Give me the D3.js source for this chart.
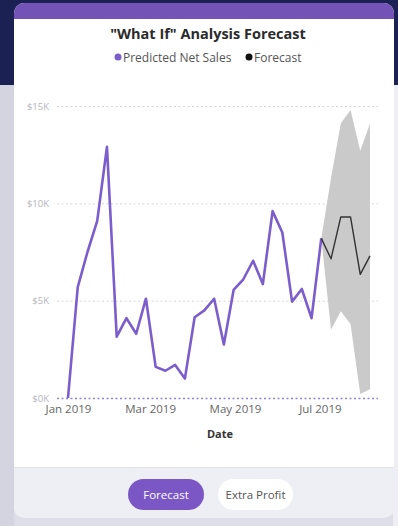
<!DOCTYPE html>
<html><head><meta charset="utf-8">
<script src="https://cdn.jsdelivr.net/npm/d3@7"></script>
<style>
html,body{margin:0;padding:0;background:#dcdce6;}
svg{display:block;font-family:"Segoe UI","Open Sans","Noto Sans",sans-serif;}
</style></head>
<body>
<svg id="chart" width="398" height="526"></svg>
<script>
// ---- data (values in dollars) ----
const startDate = "2019-01-01";           // first weekly observation
const actualValues = [0, 5700, 7500, 9100, 12900, 3150, 4100, 3300, 5100, 1600, 1400, 1700, 1000,
  4150, 4500, 5100, 2750, 5550, 6100, 7050, 5850, 9600, 8500, 4950, 5600, 4100, 8200];
const forecastValues = [8200, 7150, 9300, 9300, 6350, 7300];
const forecastUpper  = [8200, 11300, 14100, 14800, 12700, 14100];
const forecastLower  = [8200, 3500, 4450, 3800, 200, 450];
const xTickDates  = ["2019-01-01", "2019-03-01", "2019-05-01", "2019-07-01"];
const yTickValues = [0, 5000, 10000, 15000];
const yTickLabels = ["$0K", "$5K", "$10K", "$15K"];
const legendItems = ["Predicted Net Sales", "Forecast"];
const buttonLabels = ["Forecast", "Extra Profit"];

const parse = d3.timeParse("%Y-%m-%d");
const t0 = parse(startDate);
const week = i => d3.timeDay.offset(t0, i * 7);
const actual = actualValues.map((v, i) => ({date: week(i), value: v}));
const fOffset = actualValues.length - 1;
const forecast = forecastValues.map((v, i) => ({date: week(fOffset + i), value: v, hi: forecastUpper[i], lo: forecastLower[i]}));

const purple = "#7b5dcc";
const svg = d3.select("#chart");

// ---- page background & card ----
svg.append("rect").attr("x", 0).attr("y", 0).attr("width", 398).attr("height", 526).attr("fill", "#dedee8");
svg.append("rect").attr("x", 0).attr("y", 0).attr("width", 398).attr("height", 85).attr("fill", "#1b2152");
svg.append("rect").attr("x", 0).attr("y", 85).attr("width", 14).attr("height", 441).attr("fill", "#d3d4e0");
svg.append("rect").attr("x", 393).attr("y", 85).attr("width", 5).attr("height", 441).attr("fill", "#eeeef3");

const defs = svg.append("defs");
defs.append("clipPath").attr("id", "card").append("rect")
  .attr("x", 14).attr("y", 3).attr("width", 380).attr("height", 515).attr("rx", 10);
const card = svg.append("g").attr("clip-path", "url(#card)");
card.append("rect").attr("x", 14).attr("y", 3).attr("width", 380).attr("height", 515).attr("fill", "#eeeff4");
card.append("rect").attr("x", 14).attr("y", 3).attr("width", 380).attr("height", 16).attr("fill", "#7353b6");
card.append("rect").attr("x", 14).attr("y", 19).attr("width", 380).attr("height", 448).attr("fill", "#ffffff");
card.append("line").attr("x1", 14).attr("x2", 394).attr("y1", 467.5).attr("y2", 467.5).attr("stroke", "#e2e2e8");

// ---- scales ----
const x = d3.scaleTime().domain([t0, week(fOffset + forecastValues.length - 1)]).range([68, 370]);
const y = d3.scaleLinear().domain([0, 15000]).range([398, 106]);

// ---- gridlines ----
svg.append("g").selectAll("line").data(yTickValues).join("line")
  .attr("x1", 57).attr("x2", 378)
  .attr("y1", d => y(d) + 0.5).attr("y2", d => y(d) + 0.5)
  .attr("stroke", d => d === 0 ? "#8e82d8" : "#d6d6da")
  .attr("stroke-width", d => d === 0 ? 1.5 : 1)
  .attr("stroke-dasharray", "2,2.5");

// y labels
svg.append("g").selectAll("text").data(yTickValues).join("text")
  .attr("x", 49).attr("y", d => y(d) + 3.5)
  .attr("text-anchor", "end").attr("font-size", 9.5).attr("fill", "#b4b4bc")
  .text((d, i) => yTickLabels[i]);

// x axis
const xAxis = d3.axisBottom(x).tickValues(xTickDates.map(parse))
  .tickFormat(d3.timeFormat("%b %Y")).tickSize(0).tickPadding(0);
const gx = svg.append("g").attr("transform", "translate(0,405)").call(xAxis);
gx.select(".domain").remove();
gx.selectAll("text").attr("font-size", 11.5).attr("fill", "#666").attr("dy", "0.71em")
  .style("font-family", "'Segoe UI','Open Sans','Noto Sans',sans-serif");

svg.append("text").attr("x", 220).attr("y", 438).attr("text-anchor", "middle")
  .attr("font-size", 11).attr("font-weight", "bold").attr("fill", "#333").text("Date");

// ---- forecast band ----
svg.append("path").datum(forecast)
  .attr("d", d3.area().x(d => x(d.date)).y0(d => y(d.lo)).y1(d => y(d.hi)))
  .attr("fill", "#cacaca");

// ---- lines ----
svg.append("path").datum(actual)
  .attr("d", d3.line().x(d => x(d.date)).y(d => y(d.value)))
  .attr("fill", "none").attr("stroke", purple).attr("stroke-width", 2.6)
  .attr("stroke-linejoin", "round");
svg.append("path").datum(forecast)
  .attr("d", d3.line().x(d => x(d.date)).y(d => y(d.value)))
  .attr("fill", "none").attr("stroke", "#333").attr("stroke-width", 1.4)
  .attr("stroke-linejoin", "round");

// ---- title & legend ----
svg.append("text").attr("x", 208).attr("y", 39).attr("text-anchor", "middle")
  .attr("font-size", 14.5).attr("font-weight", "bold").attr("fill", "#2b2b2b")
  .text('"What If" Analysis Forecast');

const leg = svg.append("g");
const legColors = [purple, "#111"];
const legX = [118, 249];
legendItems.forEach((name, i) => {
  leg.append("circle").attr("cx", legX[i]).attr("cy", 57).attr("r", 3.5).attr("fill", legColors[i]);
  leg.append("text").attr("x", legX[i] + 5).attr("y", 61.5).attr("font-size", 12).attr("fill", "#555").text(name);
});

// ---- buttons ----
const btns = [{x: 128, w: 76, fill: "#7b57c6", color: "#fff"}, {x: 218, w: 75, fill: "#ffffff", color: "#555"}];
btns.forEach((b, i) => {
  svg.append("rect").attr("x", b.x).attr("y", 479).attr("width", b.w).attr("height", 31).attr("rx", 15.5).attr("fill", b.fill);
  svg.append("text").attr("x", b.x + b.w / 2).attr("y", 498.5).attr("text-anchor", "middle")
    .attr("font-size", 11.5).attr("fill", b.color).text(buttonLabels[i]);
});
</script>
</body></html>
